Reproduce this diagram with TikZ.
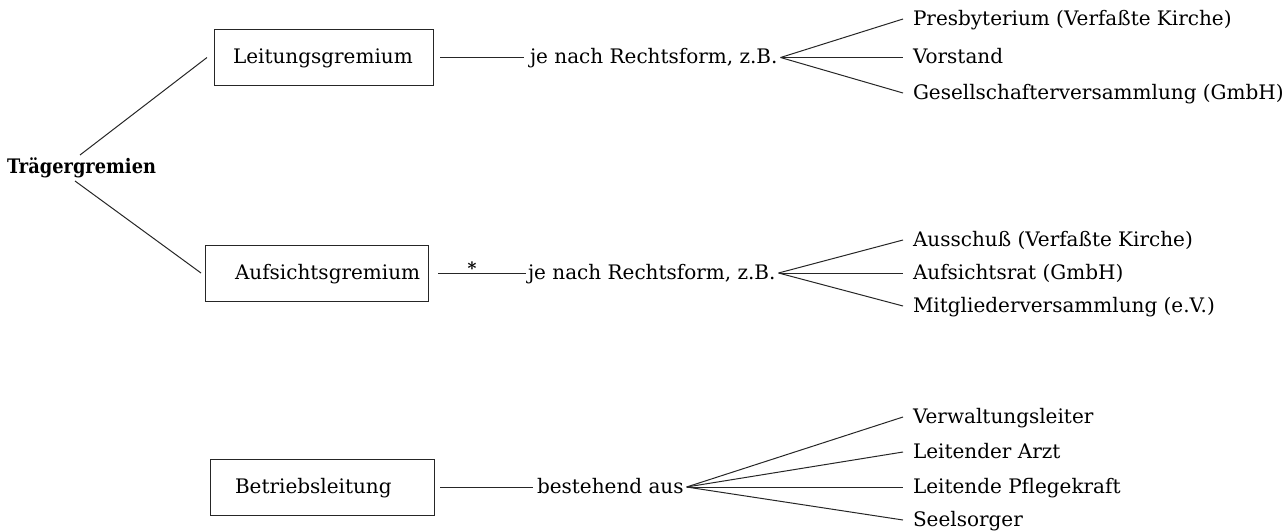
\documentclass[tikz,border=0pt]{standalone}
\usepackage{fontspec}
\setmainfont{DejaVu Serif}
\newfontfamily\headfont{DejaVu Serif}[FakeStretch=0.89]
\usetikzlibrary{calc}
\begin{document}
\begin{tikzpicture}[x=0.5pt,y=-0.5pt,
  every node/.style={inner sep=0pt, outer sep=0pt},
  txt/.style={font=\fontsize{10}{12}\selectfont, text height=8pt, text depth=2pt},
  item/.style={txt, anchor=west},
  head/.style={font=\headfont\bfseries\fontsize{10}{12}\selectfont, text height=8pt, text depth=2pt, anchor=west},
  gbox/.style={txt, draw=black!85, line width=0.5pt, minimum height=28pt},
  link/.style={draw=black!85, line width=0.5pt},
  mark star/.style={font=\bfseries\fontsize{8.5}{9}\selectfont, anchor=base}
]
\useasboundingbox (0,0) rectangle (1287,531);

% root
\node[head] (trg) at (7,167) {Trägergremien};
\coordinate (trgUp) at ([shift={(-1.5,-2)}]trg.north);
\coordinate (trgDn) at ([shift={(-6.5,4)}]trg.south);

% the three bodies
\node[gbox] (lg) at (323.5,57.5) {\makebox[109.5pt][l]{\hspace{9.5pt}Leitungsgremium}};
\node[gbox] (ag) at (316.5,273)  {\makebox[111.5pt][l]{\hspace{15pt}Aufsichtsgremium}};
\node[gbox] (bl) at (322,487)    {\makebox[112pt][l]{\hspace{12.5pt}Betriebsleitung}};

\draw[link] (trgUp) -- ([xshift=-3.5pt]lg.west);
\draw[link] (trgDn) -- ([xshift=-2pt]ag.west);

% middle texts
\node[item] (r1) at (530,57.5) {je nach Rechtsform, z.B.};
\node[item] (r2) at (528,273)  {je nach Rechtsform, z.B.};
\node[item] (r3) at (537,487)  {bestehend aus};

\draw[link] ([xshift=3.5pt]lg.east) -- ([xshift=-3pt]r1.west);
\draw[link] ([xshift=5pt]ag.east)   -- ([xshift=-1pt]r2.west);
\draw[link] ([xshift=3pt]bl.east)   -- ([xshift=-2pt]r3.west);
\node[mark star] (st) at (472,274) {*};

% fan apices
\coordinate (a1) at ([xshift=1.5pt]r1.east);
\coordinate (a2) at ([xshift=1.5pt]r2.east);
\coordinate (a3) at ([xshift=1.5pt]r3.east);

% first row
\node[item] (p1) at (913,19)   {Presbyterium (Verfaßte Kirche)};
\node[item] (p2) at (913,57.5) {Vorstand};
\node[item] (p3) at (913,93)   {Gesellschafterversammlung (GmbH)};
\foreach \n in {p1,p2,p3} \draw[link] (a1) -- ([xshift=-5pt]\n.west);

% second row
\node[item] (q1) at (913,240) {Ausschuß (Verfaßte Kirche)};
\node[item] (q2) at (913,273) {Aufsichtsrat (GmbH)};
\node[item] (q3) at (913,306) {Mitgliederversammlung (e.V.)};
\foreach \n in {q1,q2,q3} \draw[link] (a2) -- ([xshift=-5pt]\n.west);

% third row
\node[item] (m1) at (913,417) {Verwaltungsleiter};
\node[item] (m2) at (913,452) {Leitender Arzt};
\node[item] (m3) at (913,487) {Leitende Pflegekraft};
\node[item] (m4) at (913,520) {Seelsorger};
\foreach \n in {m1,m2,m3,m4} \draw[link] (a3) -- ([xshift=-5pt]\n.west);
\end{tikzpicture}
\end{document}
